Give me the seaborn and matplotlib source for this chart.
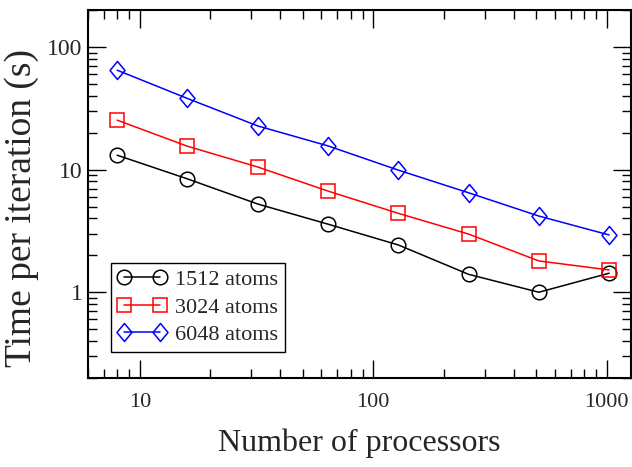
import matplotlib
matplotlib.use("Agg")
import matplotlib.pyplot as plt
import matplotlib.ticker as mticker
from matplotlib.path import Path
import seaborn as sns
import pandas as pd

processors = [8, 16, 32, 64, 128, 256, 512, 1024]
t_1512 = [13.1, 8.4, 5.24, 3.59, 2.43, 1.40, 1.0, 1.43]
t_3024 = [25.3, 15.5, 10.5, 6.68, 4.40, 2.98, 1.80, 1.52]
t_6048 = [64.6, 38.0, 22.7, 15.6, 9.9, 6.47, 4.18, 2.93]
labels = ["1512 atoms", "3024 atoms", "6048 atoms"]

sns.set_theme(style="ticks")
plt.rcParams["font.family"] = ["Liberation Serif", "DejaVu Serif"]

fig = plt.figure(figsize=(6.32, 4.67), dpi=100)
ax = fig.add_axes([0.1392, 0.1906, 0.8592, 0.788])

diamond = Path([(0, 1), (0.83, 0), (0, -1), (-0.83, 0), (0, 1)],
               [Path.MOVETO, Path.LINETO, Path.LINETO, Path.LINETO, Path.CLOSEPOLY])

series = [(t_1512, "black", "o", 10.5), (t_3024, "#ff0000", "s", 9.5), (t_6048, "#0000ff", diamond, 13)]
for (vals, col, mk, ms), lab in zip(series, labels):
    df = pd.DataFrame({"procs": processors, "time": vals})
    sns.lineplot(data=df, x="procs", y="time", ax=ax, color=col, lw=1.1,
                 marker=mk, ms=ms, mfc="none", mec=col, mew=1.1, label=lab)

ax.set_xscale("log")
ax.set_yscale("log")
ax.set_xlim(6.0, 1270)
ax.set_ylim(0.2, 200)

fmt = mticker.FuncFormatter(lambda v, p: "%g" % v)
ax.xaxis.set_major_locator(mticker.FixedLocator([10, 100, 1000]))
ax.yaxis.set_major_locator(mticker.FixedLocator([1, 10, 100]))
ax.xaxis.set_major_formatter(fmt)
ax.yaxis.set_major_formatter(fmt)
ax.xaxis.set_minor_locator(mticker.LogLocator(base=10, subs=range(2, 10), numticks=20))
ax.yaxis.set_minor_locator(mticker.LogLocator(base=10, subs=range(2, 10), numticks=20))
ax.xaxis.set_minor_formatter(mticker.NullFormatter())
ax.yaxis.set_minor_formatter(mticker.NullFormatter())

ax.tick_params(which="both", direction="in", top=True, right=True, color="black", width=1.0)
ax.tick_params(which="major", length=13)
ax.tick_params(which="minor", length=6.5)
ax.tick_params(axis="x", which="major", labelsize=16, pad=11)
ax.tick_params(axis="y", which="major", labelsize=17, pad=4)
for s in ax.spines.values():
    s.set_linewidth(1.5)
    s.set_color("black")

ax.set_xlabel("Number of processors", fontsize=23, labelpad=12)
ax.set_ylabel("Time per iteration (s)", fontsize=27)
ax.yaxis.set_label_coords(-0.090, 0.462)

leg = ax.legend(loc="lower left", bbox_to_anchor=(0.042, 0.071), borderaxespad=0,
                fontsize=16, numpoints=2, handlelength=2.2, handletextpad=0.4,
                borderpad=0.3, labelspacing=0.32, fancybox=False, framealpha=1,
                edgecolor="black")
leg.get_frame().set_linewidth(1.0)

fig.savefig("out.png", dpi=100)
